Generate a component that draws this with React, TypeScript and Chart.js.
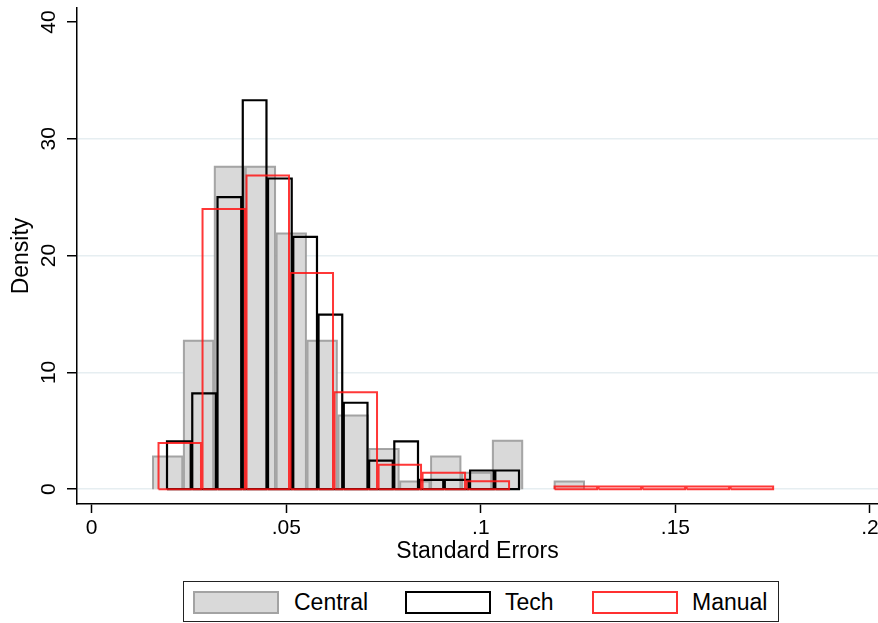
import React, { useEffect, useRef } from 'react';
import { Chart, registerables } from 'chart.js';

Chart.register(...registerables);

// Axis ticks
const xTickValues = [0, 0.05, 0.1, 0.15, 0.2];
const xTickLabels = ['0', '.05', '.1', '.15', '.2'];
const yTickValues = [0, 10, 20, 30, 40];

// Central: bin start, bin width, density per bin
const centralStart = 0.01555;
const centralWidth = 0.00794;
const centralDensity = [2.8, 12.7, 27.6, 27.6, 21.9, 12.7, 6.3, 3.45, 0.65, 2.8, 1.4, 4.15, 0, 0.65];

// Tech
const techStart = 0.01915;
const techWidth = 0.00649;
const techDensity = [4.1, 8.2, 25.0, 33.3, 26.6, 21.6, 14.95, 7.4, 2.45, 4.1, 0.8, 0.8, 1.6, 1.6];

// Manual
const manualStart = 0.01697;
const manualWidth = 0.01131;
const manualDensity = [3.95, 24.0, 26.85, 18.5, 8.3, 2.1, 1.4, 0.67, 0, 0.22, 0.22, 0.22, 0.22, 0.22];

const seriesNames = ['Central', 'Tech', 'Manual'];

const FONT = '"Liberation Sans", Arial, Helvetica, sans-serif';
const BAR_GAP = 0.0004;

// Each non-empty bin becomes its own line segment (left side, top, right side,
// optionally the bottom), separated from the next bin by a gap point.
function binRects(start: number, width: number, density: number[], closed: boolean) {
  const pts: { x: number; y: number | null }[] = [];
  density.forEach((d, i) => {
    if (d <= 0) return;
    const l = start + i * width + BAR_GAP / 2;
    const r = start + (i + 1) * width - BAR_GAP / 2;
    pts.push({ x: l, y: 0 }, { x: l, y: d }, { x: r, y: d }, { x: r, y: 0 });
    if (closed) pts.push({ x: l, y: 0 });
    pts.push({ x: r, y: null });
  });
  return pts;
}

const yTickLabelPlugin = {
  id: 'yTickLabels',
  afterDraw(chart: any) {
    const { ctx } = chart;
    const ys = chart.scales.y;
    ctx.save();
    ctx.font = `21px ${FONT}`;
    ctx.fillStyle = '#000';
    ctx.textAlign = 'center';
    ctx.textBaseline = 'middle';
    yTickValues.forEach((v) => {
      const py = ys.getPixelForValue(v);
      ctx.save();
      ctx.translate(49, py);
      ctx.rotate(-Math.PI / 2);
      ctx.fillText(String(v), 0, 0);
      ctx.restore();
    });
    ctx.restore();
  },
};

function HistogramChart() {
  const ref = useRef<HTMLCanvasElement | null>(null);

  useEffect(() => {
    if (!ref.current) return;
    const chart = new Chart(ref.current, {
      type: 'line',
      data: {
        datasets: [
          {
            label: seriesNames[0],
            data: binRects(centralStart, centralWidth, centralDensity, false),
            spanGaps: false,
            pointRadius: 0,
            borderColor: 'rgba(150,150,150,0.85)',
            borderWidth: 2,
            backgroundColor: '#d9d9d9',
            fill: 'origin',
            tension: 0,
            borderJoinStyle: 'miter',
            order: 3,
          },
          {
            label: seriesNames[1],
            data: binRects(techStart, techWidth, techDensity, true),
            spanGaps: false,
            pointRadius: 0,
            borderColor: '#000',
            borderWidth: 2.2,
            backgroundColor: 'transparent',
            fill: false,
            tension: 0,
            borderJoinStyle: 'miter',
            order: 2,
          },
          {
            label: seriesNames[2],
            data: binRects(manualStart, manualWidth, manualDensity, true),
            spanGaps: false,
            pointRadius: 0,
            borderColor: 'rgba(255,20,20,0.85)',
            borderWidth: 2,
            backgroundColor: 'transparent',
            fill: false,
            tension: 0,
            borderJoinStyle: 'miter',
            order: 1,
          },
        ],
      },
      options: {
        responsive: false,
        animation: false,
        events: [],
        layout: { padding: { top: 8, right: 0, bottom: 55, left: 0 } },
        plugins: {
          legend: { display: false },
          tooltip: { enabled: false },
          title: { display: false },
        },
        scales: {
          x: {
            type: 'linear',
            min: -0.00378,
            max: 0.20206,
            afterBuildTicks: (s: any) => {
              s.ticks = xTickValues.map((v) => ({ value: v }));
            },
            afterFit: (s: any) => {
              s.height = 64;
              s.paddingLeft = 0;
              s.paddingRight = 0;
            },
            ticks: {
              autoSkip: false,
              maxRotation: 0,
              minRotation: 0,
              padding: 3,
              color: '#000',
              font: { family: FONT, size: 21 },
              callback: (_v: any, i: number) => xTickLabels[i],
            },
            grid: {
              drawOnChartArea: false,
              drawTicks: true,
              tickLength: 9,
              tickColor: '#000',
              tickWidth: 1.5,
            },
            border: { display: true, color: '#000', width: 1.5 },
            title: {
              display: true,
              text: 'Standard Errors',
              color: '#000',
              font: { family: FONT, size: 23 },
              padding: { top: 0, bottom: 3 },
            },
          },
          y: {
            type: 'linear',
            min: -1.27,
            max: 41.2,
            afterBuildTicks: (s: any) => {
              s.ticks = yTickValues.map((v) => ({ value: v }));
            },
            afterFit: (s: any) => {
              s.width = 77;
              s.paddingTop = 0;
              s.paddingBottom = 0;
            },
            ticks: { display: false },
            grid: {
              drawOnChartArea: true,
              drawTicks: true,
              tickLength: 10,
              tickColor: '#000',
              tickWidth: 1.5,
              lineWidth: 1.5,
              color: (c: any) => (c.tick && c.tick.value === 40 ? 'rgba(0,0,0,0)' : '#e6eef1'),
            },
            border: { display: true, color: '#000', width: 1.5 },
            title: {
              display: true,
              text: 'Density',
              color: '#000',
              font: { family: FONT, size: 23 },
              padding: { top: 8, bottom: 0 },
            },
          },
        },
      } as any,
      plugins: [yTickLabelPlugin],
    });
    return () => chart.destroy();
  }, []);

  return <canvas ref={ref} width={878} height={623} style={{ width: 878, height: 623, display: 'block' }} />;
}

const swatchBase: React.CSSProperties = {
  position: 'absolute',
  top: 9,
  width: 82,
  height: 19,
  boxSizing: 'content-box',
};

const labelBase: React.CSSProperties = {
  position: 'absolute',
  top: 0,
  height: 40,
  lineHeight: '40px',
  fontFamily: FONT,
  fontSize: 23,
  color: '#000',
  whiteSpace: 'nowrap',
};

function Legend() {
  return (
    <div
      style={{
        position: 'absolute',
        left: 183,
        top: 581,
        width: 594,
        height: 39,
        border: '1.5px solid #222',
        background: '#fff',
      }}
    >
      <div style={{ ...swatchBase, left: 9, background: '#d9d9d9', border: '2px solid #a3a3a3' }} />
      <div style={{ ...labelBase, left: 110 }}>{seriesNames[0]}</div>
      <div style={{ ...swatchBase, left: 221, background: '#fff', border: '2px solid #000' }} />
      <div style={{ ...labelBase, left: 321 }}>{seriesNames[1]}</div>
      <div style={{ ...swatchBase, left: 408, background: '#fff', border: '2px solid #ff3030' }} />
      <div style={{ ...labelBase, left: 508 }}>{seriesNames[2]}</div>
    </div>
  );
}

export default function App() {
  return (
    <div style={{ position: 'absolute', left: 0, top: 0, width: 878, height: 623, background: '#fff', overflow: 'hidden' }}>
      <HistogramChart />
      <Legend />
    </div>
  );
}
